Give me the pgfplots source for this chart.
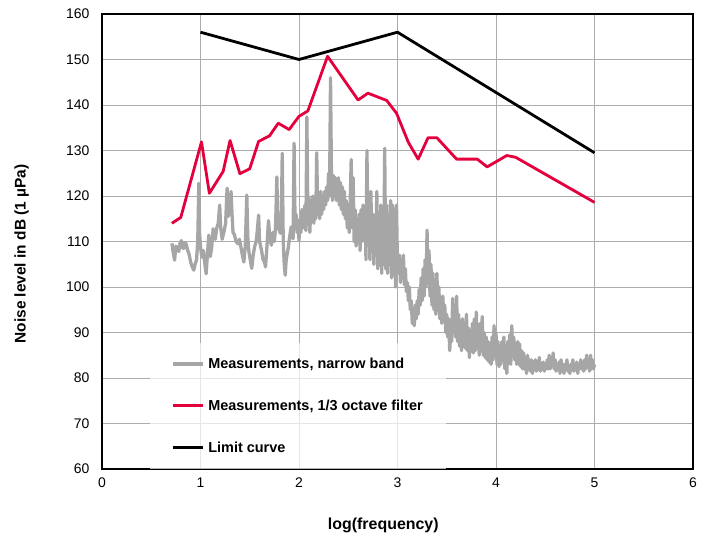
\documentclass[border=0pt]{standalone}
\usepackage{fontspec}
\setmainfont{Liberation Sans}
\usepackage{pgfplots}
\pgfplotsset{compat=1.18}
\definecolor{gridgray}{RGB}{172,172,172}
\definecolor{nbgray}{RGB}{166,166,166}
\definecolor{octred}{RGB}{228,0,60}

\begin{document}
\begin{tikzpicture}
\path[use as bounding box] (-102bp,-68bp) rectangle (601bp,469bp);
\begin{axis}[
    scale only axis,
    width=591bp, height=455bp,
    xmin=0, xmax=6, ymin=60, ymax=160,
    xtick={0,1,2,3,4,5,6},
    ytick={60,70,80,90,100,110,120,130,140,150,160},
    grid=major,
    major grid style={gridgray, line width=0.8bp},
    major tick length=0pt,
    axis line style={black, line width=1.2bp},
    /pgf/number format/assume math mode=true,
    tick label style={font=\fontsize{14}{16}\selectfont},
    xticklabel style={yshift=-5bp},
    yticklabel style={xshift=-9bp},
    xlabel={log(frequency)},
    ylabel={Noise level in dB (1 µPa)},
    xlabel style={font=\bfseries\fontsize{16}{18}\selectfont, at={(axis description cs:0.476,-0.123)}, anchor=center},
    ylabel style={font=\bfseries\fontsize{15.5}{18}\selectfont, at={(axis description cs:-0.136,0.4725)}, anchor=center},
    legend style={
        at={(axis description cs:0.081,0.0)}, anchor=south west,
        draw=none, fill=white, fill opacity=0.7, text opacity=1,
        font=\bfseries\fontsize{14.5}{16}\selectfont,
        inner xsep=21bp, inner ysep=13bp,
        row sep=26bp,
        /tikz/every odd column/.append style={column sep=2bp},
    },
    legend cell align=left,
    legend image code/.code={\draw[#1] (0bp,0bp) -- (30bp,0bp);},
]
% narrow band measurements
\addplot[nbgray, line width=3.3bp, line join=round] coordinates {
(0.71,109.6)(0.72,108)(0.737,105.9)(0.75,109)(0.76,108.5)(0.78,107.8)(0.79,109.5)(0.805,110.2)(0.82,108.5)(0.832,108.5)
(0.845,109.8)(0.858,109.2)(0.87,108)(0.882,107.4)(0.90,105.5)(0.915,104.5)(0.932,103.7)(0.945,105)(0.96,106)(0.972,110)
(0.983,122.8)(0.99,112)(1.00,109)(1.01,107)(1.02,106.5)(1.03,108)(1.045,105)(1.057,102.9)(1.07,107)(1.084,111.4)
(1.09,108.5)(1.10,106.7)(1.115,109)(1.128,112.8)(1.14,111)(1.15,110.5)(1.165,113)(1.18,114)(1.195,118)(1.205,113)
(1.22,110.5)(1.24,112.3)(1.255,114)(1.27,121.7)(1.28,115.5)(1.295,117)(1.31,121)(1.32,116)(1.33,112)(1.345,111.5)
(1.36,110)(1.38,109.5)(1.395,110.5)(1.41,108.8)(1.425,107)(1.44,105.5)(1.455,109)(1.47,120.2)(1.48,111)(1.49,108)
(1.505,106)(1.52,104.1)(1.535,107)(1.55,108.9)(1.565,110)(1.575,112)(1.59,115.8)(1.60,110)(1.62,108)(1.635,106)
(1.65,105.5)(1.66,104.4)(1.675,109)(1.69,114.6)(1.705,110.5)(1.72,109.2)(1.735,112)(1.75,110)(1.762,113)(1.775,124.2)
(1.785,114)(1.80,112.5)(1.81,111.8)(1.82,115)(1.83,129.4)(1.84,110)(1.85,105)(1.86,102.6)(1.87,106)(1.89,108.5)
(1.905,111)(1.92,113.2)(1.93,112)(1.94,110.6)(1.95,131.6)(1.96,114)(1.97,116)(1.98,112)(1.99,114.5)(2.00,110.2)
(2.01,115)(2.02,112)(2.03,117)(2.04,116.8)(2.05,113)(2.06,118)(2.07,112.4)(2.08,137.4)(2.09,115)(2.10,119.8)
(2.11,112)(2.12,118)(2.13,115)(2.14,120)(2.15,114)(2.16,118)(2.17,115)(2.18,129.5)(2.19,116)(2.20,120)
(2.21,115)(2.22,121)(2.23,116)(2.24,120)(2.25,117)(2.26,121)(2.27,118)(2.28,122)(2.29,119)(2.30,125)
(2.31,120)(2.32,146)(2.33,123)(2.34,119)(2.35,124.5)(2.36,120)(2.37,124)(2.38,119)(2.39,123)(2.40,124)
(2.41,118)(2.42,123)(2.43,117)(2.44,122)(2.45,116)(2.46,121)(2.47,115)(2.48,119)(2.49,113)(2.50,117)
(2.51,112)(2.52,119)(2.53,128)(2.54,113)(2.55,124)(2.56,110)(2.57,117)(2.58,109)(2.59,115)(2.60,111)
(2.61,116)(2.62,108)(2.63,117)(2.64,110)(2.65,118)(2.66,111)(2.67,117)(2.68,106)(2.69,130)(2.70,110)
(2.71,116)(2.72,106)(2.73,121)(2.74,108)(2.75,116)(2.76,105)(2.77,114)(2.78,107)(2.79,121)(2.80,104)
(2.81,115)(2.82,106)(2.83,118)(2.84,103)(2.85,117)(2.86,105)(2.87,130.5)(2.88,104)(2.89,118)(2.90,103)
(2.91,116)(2.92,105)(2.93,119)(2.94,102)(2.95,118)(2.96,104)(2.97,117)(2.98,100)(2.99,118)(3.00,104)
(3.01,103)(3.02,107)(3.03,101)(3.04,106)(3.05,102)(3.06,107)(3.07,100.5)(3.08,104)(3.09,99)(3.10,101)
(3.11,97)(3.12,100)(3.13,95)(3.14,97)(3.15,92)(3.16,94)(3.17,91.5)(3.18,96)(3.19,93)(3.20,97)
(3.21,94)(3.22,99.5)(3.23,96)(3.24,102)(3.25,97)(3.26,104)(3.27,98)(3.28,106)(3.29,100)(3.30,112.5)
(3.31,101)(3.32,108)(3.33,98)(3.34,105)(3.35,96)(3.36,103)(3.37,95)(3.38,101)(3.39,94)(3.40,103)
(3.41,95)(3.42,100)(3.43,93)(3.44,97)(3.45,92)(3.46,98)(3.47,93)(3.48,96)(3.49,90)(3.50,94)
(3.51,89)(3.52,93)(3.53,86)(3.54,90)(3.55,88)(3.56,97.5)(3.57,90)(3.58,96)(3.59,89)(3.60,98)
(3.61,88)(3.62,94)(3.63,87)(3.64,92.5)(3.65,86)(3.66,93)(3.67,87)(3.68,92)(3.69,86.5)(3.70,94)
(3.71,86)(3.72,91)(3.73,84.5)(3.74,90)(3.75,86)(3.76,92)(3.77,85.5)(3.78,93)(3.79,86)(3.80,94.5)
(3.81,87)(3.82,89)(3.83,85)(3.84,92)(3.85,86)(3.86,93.5)(3.87,85)(3.88,90)(3.89,84.5)(3.90,89)
(3.91,84)(3.92,88)(3.93,83.5)(3.94,87)(3.95,83)(3.96,89)(3.97,84)(3.98,91.5)(3.99,85)(4.00,90)
(4.01,83)(4.02,88)(4.03,82.5)(4.04,87)(4.05,83)(4.06,88)(4.07,84)(4.08,89)(4.09,82)(4.10,86)
(4.11,81)(4.12,88)(4.13,84)(4.14,89.5)(4.15,83)(4.16,91.5)(4.17,85)(4.18,89)(4.19,84)(4.20,86)
(4.21,83)(4.22,88)(4.23,83)(4.24,87.5)(4.25,82.5)(4.26,86)(4.27,82)(4.28,85.5)(4.29,82)(4.30,84.5)
(4.31,81)(4.32,85)(4.33,82)(4.34,84)(4.35,81.5)(4.36,84)(4.37,81)(4.38,83.5)(4.39,82)(4.40,84)
(4.41,81.5)(4.42,83)(4.43,82)(4.44,84.5)(4.45,81.5)(4.46,83)(4.47,82)(4.48,83.5)(4.49,81.5)(4.50,83)
(4.51,82)(4.52,84)(4.53,82)(4.54,85)(4.55,82)(4.56,84)(4.57,83)(4.58,85.5)(4.59,82)(4.60,84)
(4.61,81.5)(4.62,83)(4.63,82)(4.64,83.5)(4.65,81)(4.66,84)(4.67,82)(4.68,83)(4.69,81)(4.70,83)
(4.71,82)(4.72,84)(4.73,81.5)(4.74,82.5)(4.75,81)(4.76,83)(4.77,82)(4.78,84)(4.79,81.5)(4.80,83)
(4.81,82)(4.82,83.5)(4.83,81)(4.84,83)(4.85,82)(4.86,84)(4.87,82)(4.88,83)(4.89,81.5)(4.90,84)
(4.91,82)(4.92,85)(4.93,82.5)(4.94,84)(4.95,81.5)(4.96,85)(4.97,82)(4.98,84)(4.99,82)(5.00,83)
};
\addlegendentry{Measurements, narrow band}
% 1/3 octave filter
\addplot[octred, line width=2.8bp, line join=round] coordinates {
(0.71,114.0)(0.80,115.3)(1.01,131.9)(1.09,120.6)(1.23,125.4)(1.30,132.2)(1.40,124.9)(1.50,126.0)
(1.59,132.0)(1.70,133.2)(1.79,136.0)(1.90,134.6)(2.00,137.5)(2.09,138.7)(2.29,150.7)(2.60,141.1)
(2.70,142.6)(2.89,141.0)(2.99,138.2)(3.11,131.8)(3.21,128.1)(3.31,132.8)(3.40,132.8)(3.60,128.1)
(3.81,128.1)(3.91,126.4)(4.11,128.9)(4.20,128.5)(5.00,118.6)
};
\addlegendentry{Measurements, 1/3 octave filter}
% limit curve
\addplot[black, line width=2.8bp, line join=round] coordinates {
(1,156)(2,150)(3,156)(5,129.5)
};
\addlegendentry{Limit curve}
\end{axis}
\end{tikzpicture}
\end{document}
